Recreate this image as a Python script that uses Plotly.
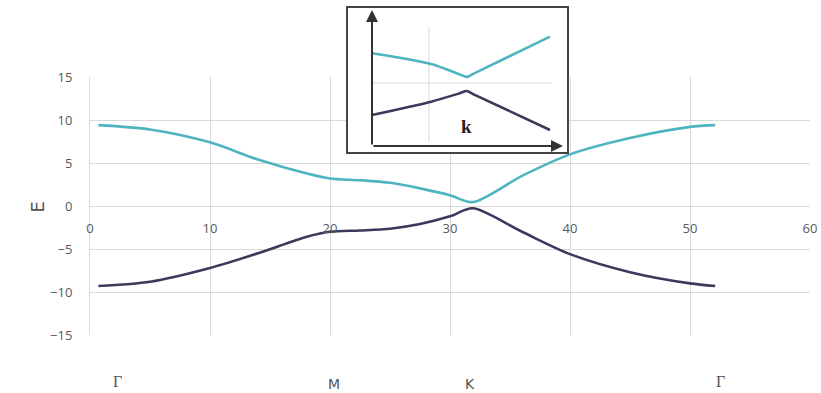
import plotly.graph_objects as go

# Band structure along the Γ–M–K–Γ path
k_path = [0.7, 5, 10, 14, 18, 20, 22.5, 25, 27.5, 30, 31.9, 36, 40, 45, 50, 52.1]
upper_band = [9.4, 8.9, 7.4, 5.4, 3.8, 3.2, 3.0, 2.7, 2.05, 1.25, 0.45, 3.5, 6.0, 7.9, 9.2, 9.4]
lower_band = [-9.3, -8.8, -7.2, -5.5, -3.6, -3.0, -2.85, -2.65, -2.1, -1.2, -0.27, -3.0, -5.6, -7.7, -9.0, -9.3]

x_ticks = [0, 10, 20, 30, 40, 50, 60]
y_ticks = [-15, -10, -5, 0, 5, 10, 15]

sym_labels = ["Γ", "M", "K", "Γ"]
sym_k = [2.3, 20.3, 31.7, 52.5]

# Close-up of the gap near K
inset_k = [0, 3.1, 4.6, 4.96, 5.35, 9.32]
inset_upper = [6.82, 6.03, 5.26, 5.08, 5.34, 8.04]
inset_lower = [2.28, 3.26, 3.88, 4.04, 3.78, 1.18]

CYAN = "#4fb4c1"
NAVY = "#3b3a5c"
GRID = "#d9d9d9"
TICK = "#595959"

W, H = 821, 393


def px_x(p):
    return p / W


def px_y(p):
    return 1 - p / H


fig = go.Figure()

fig.add_trace(go.Scatter(x=k_path, y=upper_band, mode="lines",
                         line=dict(color=CYAN, width=2.6, shape="spline", smoothing=0.8),
                         xaxis="x", yaxis="y", showlegend=False))
fig.add_trace(go.Scatter(x=k_path, y=lower_band, mode="lines",
                         line=dict(color=NAVY, width=2.6, shape="spline", smoothing=0.8),
                         xaxis="x", yaxis="y", showlegend=False))

fig.add_trace(go.Scatter(x=inset_k, y=inset_upper, mode="lines",
                         line=dict(color=CYAN, width=2.6, shape="spline", smoothing=0.7),
                         xaxis="x2", yaxis="y2", showlegend=False))
fig.add_trace(go.Scatter(x=inset_k, y=inset_lower, mode="lines",
                         line=dict(color=NAVY, width=2.6, shape="spline", smoothing=0.7),
                         xaxis="x2", yaxis="y2", showlegend=False))

# Inset scale: origin of its arrows at (0, 0), arrow tips at 10
ix_scale = 19.1
iy_scale = 13.6
box_l, box_r, box_t, box_b = 347, 568, 7, 153
org_x, org_y = 372, 146
ix_range = [-(org_x - box_l) / ix_scale, (box_r - org_x) / ix_scale]
iy_range = [-(box_b - org_y) / iy_scale, (org_y - box_t) / iy_scale]

shapes = [
    # white backing of the inset panel, drawn in its own subplot
    dict(type="rect", xref="x2", yref="y2",
         x0=ix_range[0], x1=ix_range[1], y0=iy_range[0], y1=iy_range[1],
         fillcolor="white", line=dict(width=0), layer="below"),
    dict(type="line", xref="x2", yref="y2", x0=2.98, x1=2.98, y0=0.29, y1=8.75,
         line=dict(color=GRID, width=1), layer="below"),
    dict(type="line", xref="x2", yref="y2", x0=0, x1=9.42, y0=4.63, y1=4.63,
         line=dict(color=GRID, width=1), layer="below"),
    dict(type="rect", xref="paper", yref="paper",
         x0=px_x(box_l), x1=px_x(box_r), y0=px_y(box_b), y1=px_y(box_t),
         line=dict(color="#444444", width=2), fillcolor="rgba(0,0,0,0)", layer="above"),
]

annotations = []
for lab, kx in zip(sym_labels, sym_k):
    serif = lab == "Γ"
    annotations.append(dict(
        x=kx, xref="x", y=px_y(381 if serif else 384), yref="paper",
        text=lab, showarrow=False, xanchor="center", yanchor="middle",
        font=dict(family="Liberation Serif" if serif else "DejaVu Sans",
                  size=16 if serif else 14, color="#555555")))

annotations.append(dict(
    x=px_x(24), y=px_y(207), xref="paper", yref="paper", text="E",
    textangle=-90, showarrow=False, font=dict(family="DejaVu Sans", size=18, color="#555555")))

# Inset arrows
annotations.append(dict(x=10, y=0, xref="x2", yref="y2", ax=0, ay=0, axref="x2", ayref="y2",
                        text="", showarrow=True, arrowhead=2, arrowsize=1.2, arrowwidth=2,
                        arrowcolor="#333333", standoff=0, startstandoff=0))
annotations.append(dict(x=0, y=10, xref="x2", yref="y2", ax=0, ay=0, axref="x2", ayref="y2",
                        text="", showarrow=True, arrowhead=2, arrowsize=1.2, arrowwidth=2,
                        arrowcolor="#333333", standoff=0, startstandoff=0))
annotations.append(dict(x=4.97, y=1.4, xref="x2", yref="y2", text="<b>k</b>", showarrow=False,
                        font=dict(family="Liberation Serif", size=19, color="#222222")))

fig.update_layout(
    width=W, height=H,
    margin=dict(l=0, r=0, t=0, b=0),
    paper_bgcolor="white", plot_bgcolor="white",
    showlegend=False,
    xaxis=dict(domain=[px_x(90), px_x(810)], range=[0, 60], tickvals=x_ticks,
               showgrid=True, gridcolor=GRID, gridwidth=1, zeroline=False, showline=False,
               anchor="free", position=px_y(206), ticks="", ticklabelstandoff=13,
               tickfont=dict(family="Open Sans", size=13, color=TICK), automargin=False),
    yaxis=dict(domain=[px_y(335), px_y(77)], range=[-15, 15], tickvals=y_ticks,
               showgrid=True, gridcolor=GRID, gridwidth=1, zeroline=False,
               showline=True, linecolor=GRID, linewidth=1, ticks="", ticklabelstandoff=14,
               tickfont=dict(family="Open Sans", size=13, color=TICK), automargin=False),
    xaxis2=dict(domain=[px_x(box_l), px_x(box_r)], range=ix_range,
                showgrid=False, zeroline=False, showline=False, showticklabels=False,
                anchor="y2", automargin=False),
    yaxis2=dict(domain=[px_y(box_b), px_y(box_t)], range=iy_range,
                showgrid=False, zeroline=False, showline=False, showticklabels=False,
                anchor="x2", automargin=False),
    shapes=shapes,
    annotations=annotations,
)

fig.write_html("out.html")
